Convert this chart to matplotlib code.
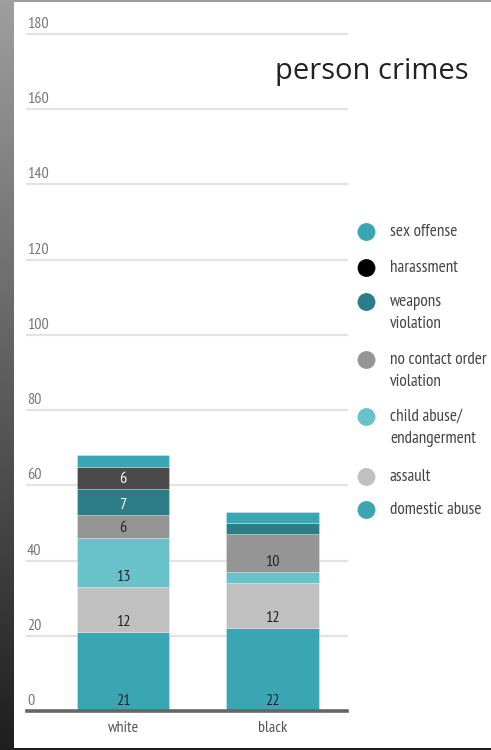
import os
import numpy as np
import matplotlib
matplotlib.use('Agg')
import matplotlib.pyplot as plt
import matplotlib.font_manager as fm
from matplotlib.patches import Rectangle
from matplotlib.transforms import blended_transform_factory, offset_copy

# ---------------- data ----------------
groups = ['white', 'black']
domestic_abuse = [21, 22]
assault = [12, 12]
child_abuse = [13, 3]
no_contact = [6, 10]
weapons = [7, 3]
harassment = [6, 0]
sex_offense = [3, 3]
series = [domestic_abuse, assault, child_abuse, no_contact, weapons, harassment, sex_offense]
series_names = ['domestic abuse', 'assault', 'child abuse/\nendangerment',
                'no contact order\nviolation', 'weapons\nviolation', 'harassment', 'sex offense']
yticks = [0, 20, 40, 60, 80, 100, 120, 140, 160, 180]

# ---------------- style ----------------
bar_colors = ['#3aa6b4', '#c0c0c0', '#69c1ca', '#959595', '#2c7d87', '#4a4a4a', '#3aa6b4']
legend_colors = ['#3aa6b4', '#c0c0c0', '#69c1ca', '#959595', '#2c7d87', '#000000', '#3aa6b4']
label_colors = ['#1e2a2c', '#222222', '#1e2a2c', '#222222', '#ffffff', '#ffffff', '#222222']

W, H = 491, 750
fig = plt.figure(figsize=(W / 100, H / 100), dpi=100)
renderer = fig.canvas.get_renderer()


def candidates():
    bad = ('Bold', 'Italic', 'Oblique', 'Light', 'Thin', 'Medium', 'Black', 'Heavy', 'Semibold', 'SemiBold')
    out = []
    for e in fm.fontManager.ttflist:
        b = os.path.basename(e.fname)
        if any(w in b for w in bad) or e.style != 'normal':
            continue
        if 'Condensed' in b or 'Narrow' in b or e.name == 'Liberation Sans Narrow':
            out.append(e.fname)
    return sorted(set(out))


def measure(text, props):
    t = fig.text(0, 0, text, fontproperties=props)
    ext = t.get_window_extent(renderer)
    t.remove()
    return ext.width


def best_font():
    best, best_err = None, 1e9
    for f in candidates():
        try:
            w = measure('sex offense', fm.FontProperties(fname=f, size=10))
        except Exception:
            continue
        size = 10 * 67 / max(w, 1)
        err = abs(size - 12.2)
        if err < best_err:
            best, best_err = f, err
    return best


NARROW_FILE = best_font()


def nfp(size):
    if NARROW_FILE:
        return fm.FontProperties(fname=NARROW_FILE, size=size)
    return fm.FontProperties(family='DejaVu Sans', stretch='condensed', size=size)


def fit_size(text, target_w, base=10.0, cap=14.0):
    w = measure(text, nfp(base))
    return min(cap, base * target_w / max(w, 1))


legend_size = fit_size('no contact order', 97)
tick_size = fit_size('180', 21.7)
lab_size = fit_size('21', 14.5)
x_size = fit_size('white', 31)

# background (textured photo approximated by gradient) + white panel
bg = fig.add_axes([0, 0, 1, 1])
bg.set_xlim(0, W)
bg.set_ylim(H, 0)
bg.axis('off')
grad = np.linspace(0.62, 0.12, 300).reshape(-1, 1)
bg.imshow(grad, cmap='gray', vmin=0, vmax=1, extent=(0, W, H, 0), aspect='auto', zorder=0)
bg.add_patch(Rectangle((14, 2), W - 14, 746, facecolor='white', edgecolor='none', zorder=1))

# main axes
ax = fig.add_axes([27 / W, 39 / H, 320 / W, 677 / H])
ax.patch.set_alpha(0)
ax.set_ylim(0, 180)
ax.set_xlim(-0.641, 1.496)
for s in ax.spines.values():
    s.set_visible(False)

x = np.arange(len(groups))
bottom = np.zeros(len(groups))
for vals, col, lcol in zip(series, bar_colors, label_colors):
    vals = np.array(vals, dtype=float)
    ax.bar(x, vals, width=0.618, bottom=bottom, color=col, edgecolor=(1, 1, 1, 0.3),
           linewidth=0.6, zorder=3)
    for xi, v, b in zip(x, vals, bottom):
        if v >= 6:
            ax.annotate(f'{int(v)}', xy=(xi, b), xytext=(0, 10), textcoords='offset pixels',
                        ha='center', va='center', color=lcol,
                        fontproperties=nfp(lab_size), zorder=5)
    bottom += vals

# grid
for t in yticks[1:]:
    ax.axhline(t, color='#e3e3e3', lw=1.6, zorder=1, clip_on=False)
ax.axhline(0, color='#666666', lw=2.6, zorder=4, clip_on=False)

# y tick labels above gridlines
ax.set_yticks([])
trans = blended_transform_factory(ax.transAxes, ax.transData)
trans = offset_copy(trans, fig=fig, x=0, y=10, units='dots')
for t in yticks:
    ax.text(0, t, str(t), transform=trans, ha='left', va='center',
            color='#757575', fontproperties=nfp(tick_size))

# x tick labels
ax.set_xticks(x)
ax.set_xticklabels(groups, color='#555555')
for lbl in ax.get_xticklabels():
    lbl.set_fontproperties(nfp(x_size))
ax.tick_params(axis='x', length=0, pad=7.5)

# title
bg.text(469, 72, 'person crimes', ha='right', va='center', fontsize=21,
        color='#222222', family=['Open Sans', 'DejaVu Sans'], zorder=5)

# legend
legend_y = [510, 477, 417, 360, 302, 268, 232]
for name, col, ly in zip(series_names, legend_colors, legend_y):
    bg.scatter([366.5], [ly], s=165, color=col, edgecolors='none', zorder=5)
    for i, line in enumerate(name.split('\n')):
        bg.text(390, ly + i * 22, line, ha='left', va='center',
                color='#444444', fontproperties=nfp(legend_size), zorder=5)

fig.savefig('out.png', dpi=100)
